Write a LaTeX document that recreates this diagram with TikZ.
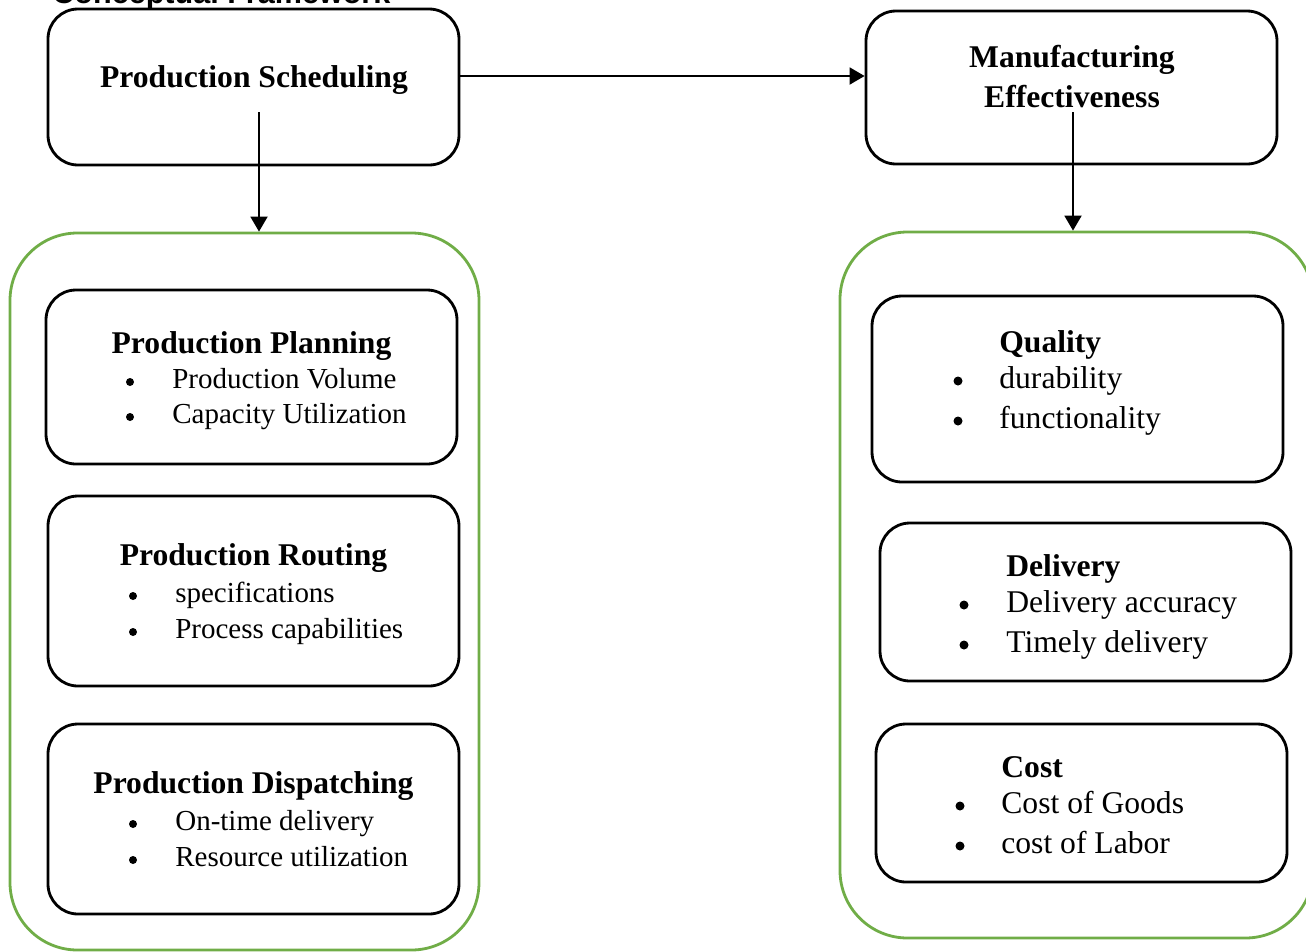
\documentclass[tikz,border=0pt]{standalone}
\usepackage{fontspec}
\setmainfont{Liberation Serif}
\setsansfont{Liberation Sans}
\usetikzlibrary{arrows.meta,fit}
\definecolor{framegreen}{HTML}{70AD47}

\begin{document}
\begin{tikzpicture} [
                x=0.02cm, y=-0.02cm,
                box/.style = {draw, line width=1.6pt, rounded corners=0.6cm, inner sep=0pt},
                group/.style = {draw=framegreen, line width=1.6pt, rounded corners=1.35cm, inner sep=0pt},
                head/.style = {font=\fontsize{18}{22}\selectfont\bfseries, anchor=base, inner sep=0pt},
                item/.style = {font=\fontsize{18}{22}\selectfont, anchor=base west, inner sep=0pt},
                small item/.style = {font=\fontsize{16.5}{20}\selectfont, anchor=base west, inner sep=0pt},
                dot/.style = {circle, fill=black, inner sep=0pt, minimum size=0.18cm},
                small dot/.style = {dot, minimum size=0.16cm},
                arrow/.style = {draw, line width=1.1pt, -{Triangle[length=0.3cm,width=0.34cm]}},
            ]
            \useasboundingbox (0,0) rectangle (1306,951);
            % the cut-off caption at the top
            \node[anchor=base west, inner sep=0pt, font=\fontsize{17.4}{20}\sffamily\bfseries] (caption) at (52,3) {Conceptual Framework};
            % First we draw the two main boxes
            \node[box, fit={(48,9) (459,165)}] (sched) {};
            \node[box, fit={(866,11) (1277,164)}] (eff) {};
            \node[head] (schedtitle) at (254,87) {Production Scheduling};
            \node[head] (efftitle1) at (1072,67) {Manufacturing};
            \node[head] (efftitle2) at (1072,107) {Effectiveness};
            \coordinate (schedout) at (259,112);
            \coordinate (effout) at (1073,112);
            % green groups
            \node[group, fit={(10,233) (479,950)}] (leftgroup) {};
            \node[group, fit={(840,232) (1313,938)}] (rightgroup) {};
            % Connect boxes with arrows
            \path[arrow] ([yshift=0.22cm]sched.east) -- ([yshift=0.22cm]sched.east -| eff.west);
            \path[arrow] (schedout) -- (schedout |- leftgroup.north);
            \path[arrow] (effout) -- (effout |- rightgroup.north);
            % inner boxes
            \foreach \name/\xa/\ya/\xb/\yb in {
                    plan/46/290/457/464, rout/48/496/459/686, disp/48/724/459/914,
                    qual/872/296/1283/482, deliv/880/523/1291/681, cost/876/724/1287/882}
                \node[box, fit={(\xa,\ya) (\xb,\yb)}] (\name) {};
            % headings on the left are centred
            \foreach \name/\y/\text in {
                    plan/353/Production Planning, rout/565/Production Routing, disp/793/Production Dispatching}
                \node[head] (\name head) at (\name.center |- 0,\y) {\text};
            % headings on the right line up with the items
            \foreach \name/\x/\y/\text in {
                    qual/999/352/Quality, deliv/1006/576/Delivery, cost/1001/777/Cost}
                \node[head, anchor=base west] (\name head) at (\x,\y) {\text};
            % bullet lists on the left
            \foreach \name/\xd/\xt/\y/\text in {
                    plan1/130/172/388/Production Volume, plan2/130/172/423/Capacity Utilization,
                    rout1/133/175/602/specifications, rout2/133/175/638/Process capabilities,
                    disp1/133/175/830/On-time delivery, disp2/133/175/866/Resource utilization}
            {
                \node[small dot] (\name dot) at (\xd,\y-6) {};
                \node[small item] (\name text) at (\xt,\y) {\text};
            }
            % bullet lists on the right
            \foreach \name/\xd/\xt/\y/\text in {
                    qual1/958/999/388/durability, qual2/958/999/428/functionality,
                    deliv1/964/1006/612/Delivery accuracy, deliv2/964/1006/652/Timely delivery,
                    cost1/960/1001/813/Cost of Goods, cost2/960/1001/853/cost of Labor}
            {
                \node[dot] (\name dot) at (\xd,\y-7) {};
                \node[item] (\name text) at (\xt,\y) {\text};
            }
        \end{tikzpicture}
\end{document}
